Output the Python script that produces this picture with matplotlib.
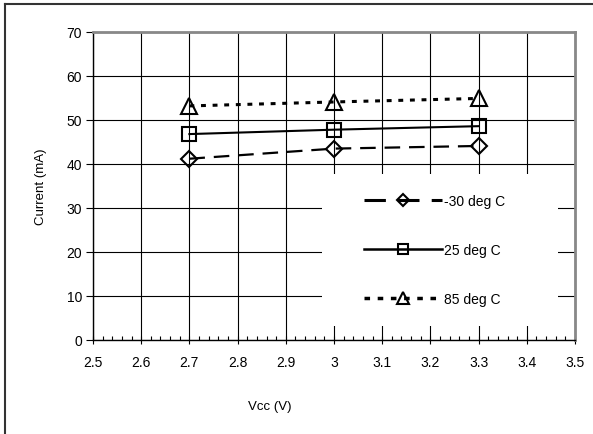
import matplotlib
matplotlib.use("Agg")
import matplotlib.pyplot as plt
from matplotlib.lines import Line2D
from matplotlib.patches import Rectangle
from matplotlib.ticker import MultipleLocator

plt.rcParams['font.family'] = ['Liberation Sans', 'DejaVu Sans']

vcc = [2.7, 3.0, 3.3]
current_m30 = [41.2, 43.5, 44.1]
current_25 = [46.8, 47.8, 48.6]
current_85 = [53.2, 54.1, 54.9]
labels = ['-30 deg C', '25 deg C', '85 deg C']

fig = plt.figure(figsize=(5.93, 4.35), dpi=100)
ax = fig.add_axes([93/593, 1 - 341/435, 482/593, 308/435])

ax.set_xlim(2.5, 3.5)
ax.set_ylim(0, 70)
ax.xaxis.set_minor_locator(MultipleLocator(0.02))
ax.yaxis.set_major_locator(MultipleLocator(10))
ax.set_xticks([2.5 + 0.1 * i for i in range(11)])
ax.set_xticklabels(['2.5', '2.6', '2.7', '2.8', '2.9', '3', '3.1', '3.2', '3.3', '3.4', '3.5'])

ax.grid(True, which='major', color='black', linewidth=0.8, zorder=0)
ax.set_axisbelow(True)

for side in ('top', 'right'):
    ax.spines[side].set_color('#888888')
    ax.spines[side].set_linewidth(2.0)
for side in ('left', 'bottom'):
    ax.spines[side].set_color('black')
    ax.spines[side].set_linewidth(1.0)

ax.tick_params(axis='y', which='major', direction='out', length=5, width=0.8,
               labelsize=10, pad=3)
ax.tick_params(axis='x', which='major', direction='inout', length=6, width=0.8,
               labelsize=10, pad=8)
ax.tick_params(axis='x', which='minor', direction='in', length=3, width=0.8)

common = dict(color='black', fillstyle='none', markeredgewidth=1.5, zorder=5)
l1, = ax.plot(vcc, current_m30, linestyle=(0, (7, 4)), linewidth=1.6,
              marker='D', markersize=8, label=labels[0], **common)
l2, = ax.plot(vcc, current_25, linestyle='-', linewidth=1.5,
              marker='s', markersize=10, label=labels[1], **common)
l3, = ax.plot(vcc, current_85, linestyle=(0, (1.6, 2.2)), linewidth=2.2,
              marker='^', markersize=11, label=labels[2], **common)

# white panel behind the legend, hiding the grid
lx0, lx1 = (322 - 93) / 482, (558 - 93) / 482
ly0, ly1 = (341 - 327) / 308, (341 - 175) / 308
ax.add_patch(Rectangle((lx0, ly0), lx1 - lx0, ly1 - ly0, transform=ax.transAxes,
                       facecolor='white', edgecolor='none', zorder=3))

handles = [
    Line2D([], [], color='black', linestyle=(0, (7, 4)), linewidth=2.2,
           marker='D', markersize=6, fillstyle='none', markeredgewidth=1.5),
    Line2D([], [], color='black', linestyle='-', linewidth=1.8,
           marker='s', markersize=7, fillstyle='none', markeredgewidth=1.5),
    Line2D([], [], color='black', linestyle=(0, (1.6, 2.2)), linewidth=2.5,
           marker='^', markersize=8, fillstyle='none', markeredgewidth=1.5),
]
leg = ax.legend(handles, labels, loc='center left',
                bbox_to_anchor=((364 - 93) / 482, (341 - 251) / 308),
                frameon=False, fontsize=10, handlelength=5.6, handletextpad=0.15,
                labelspacing=2.5, borderpad=0, borderaxespad=0)
leg.set_zorder(6)

fig.text(41 / 593, 1 - 187 / 435, 'Current (mA)', rotation=90, fontsize=9.5,
         ha='center', va='center')
fig.text(270 / 593, 1 - 407 / 435, 'Vcc (V)', fontsize=9.5,
         ha='center', va='center')

# outer chart frame
fig.add_artist(Line2D([5 / 593, 5 / 593], [0, 1 - 5 / 435], transform=fig.transFigure,
                      color='#333333', linewidth=1.5))
fig.add_artist(Line2D([5 / 593, 1], [1 - 5 / 435, 1 - 5 / 435], transform=fig.transFigure,
                      color='#333333', linewidth=1.5))

fig.savefig('out.png', dpi=100)
